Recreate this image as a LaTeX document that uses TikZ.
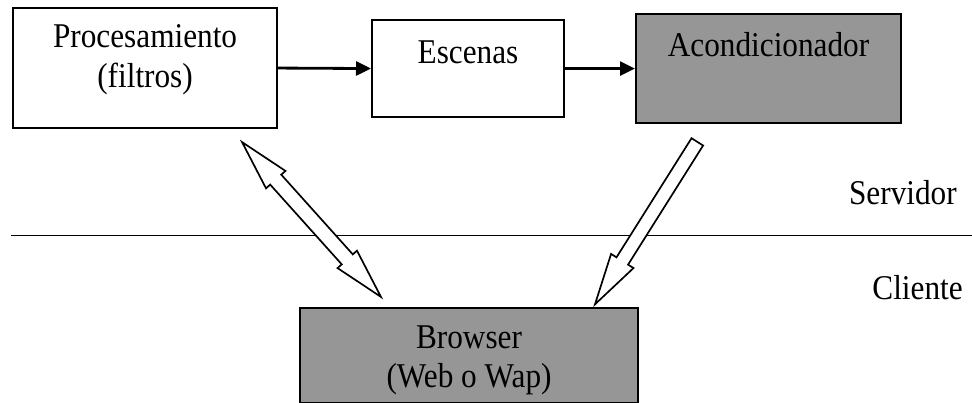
\documentclass[tikz,border=0pt]{standalone}
\usepackage{fontspec}
\setmainfont[FakeStretch=0.9]{Liberation Serif}
\usetikzlibrary{arrows.meta,positioning,shapes.arrows}
\definecolor{boxgray}{RGB}{150,150,150}
\tikzset{
  blk/.style    = {draw, line width=1.5pt, anchor=north west, inner sep=0pt},
  grayblk/.style = {blk, fill=boxgray},
  txt/.style    = {align=center, inner sep=0pt, font=\fontsize{24.7}{28.4}\selectfont},
  lbl/.style    = {inner sep=0pt, font=\fontsize{24.7}{28.4}\selectfont},
  ar/.style     = {-{Triangle[length=0.375cm,width=0.35cm]}, line width=2pt},
  sep/.style    = {line width=1.4pt},
  hollow/.style = {draw, fill=white, line width=1.2pt, inner xsep=0pt},
  oneway/.style = {hollow, single arrow, inner ysep=0.15cm,
                   single arrow head extend=0.16cm, single arrow tip angle=29},
  twoway/.style = {hollow, double arrow, inner ysep=0.165cm,
                   double arrow head extend=0.14cm, double arrow tip angle=29}
}

\begin{document}
\begin{tikzpicture}[x=1cm, y=1cm]
\useasboundingbox (0,0) rectangle (24.3,10.075);

% ---------------- server side ----------------
\node[blk, minimum width=6.6cm, minimum height=3cm] (proc) at (0.3,9.9) {};
\node[txt, below=0.43cm of proc.north] (procT) {Procesamiento\\(filtros)};

\node[blk, minimum width=4.8cm, minimum height=2.425cm] (esc) at (9.275,9.6) {};
\node[txt, below=0.525cm of esc.north] (escT) {Escenas};

\node[grayblk, minimum width=6.625cm, minimum height=2.725cm] (acond) at (15.875,9.75) {};
\node[txt, below=0.48cm of acond.north] (acondT) {Acondicionador};

% ---------------- client side ----------------
\node[grayblk, minimum width=8.45cm, minimum height=2.375cm] (brow) at (7.475,2.4) {};
\node[txt, below=0.45cm of brow.north] (browT) {Browser\\(Web o Wap)};

% ---------------- split ----------------
\draw[sep] (0.27,4.1875) -- (24.3,4.1875);
\node[lbl, anchor=base east] (srv) at (23.925,4.95) {Servidor};
\node[lbl, anchor=base east] (cli) at (24.075,2.575) {Cliente};

% ---------------- edges ----------------
\draw[ar] (proc.east) -- (esc.west);
\draw[ar] (esc.east) -- (acond.west);

% hollow arrows across the split
\node[twoway, minimum height=5.2cm, rotate=-48.1] (link) at (7.7875,4.5875) {};
\node[oneway, minimum height=4.8cm, rotate=-122.2] (push) at (16.33,4.7775) {};

\end{tikzpicture}
\end{document}
